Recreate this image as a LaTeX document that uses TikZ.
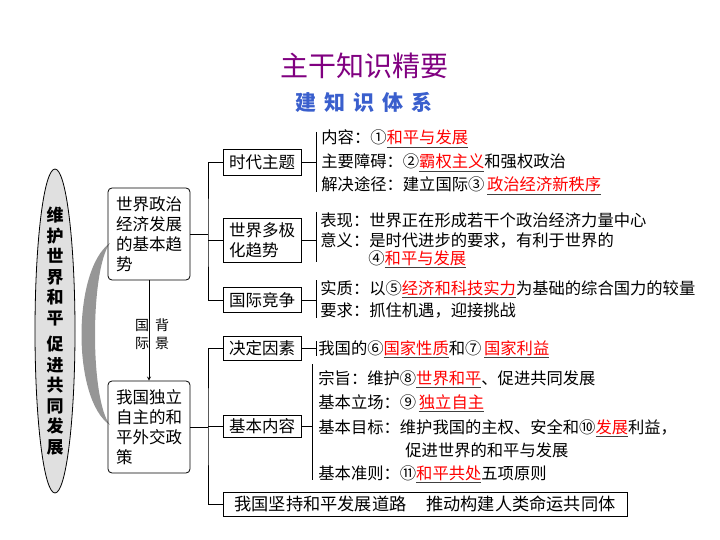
\documentclass[tikz,border=0pt]{standalone}
\usepackage{fontspec}
\setmainfont{Noto Sans CJK SC}
\usetikzlibrary{shapes.geometric}
\definecolor{titlepurple}{RGB}{128,0,128}
\definecolor{subblue}{RGB}{58,95,205}
\definecolor{moongray}{RGB}{150,150,150}
\definecolor{corefill}{RGB}{224,224,224}
\newcommand{\fsz}[2]{\fontsize{#1}{#2}\selectfont}
\newcommand{\ans}[1]{{\color{darkgray}\underline{\textcolor{red}{#1}}}}

\begin{document}
\begin{tikzpicture}[x=1pt,y=-1pt,>=stealth,line width=0.8pt,
    bigbox/.style={draw,rounded corners=4pt,minimum width=82pt,minimum height=92pt,align=left,font=\fsz{16.5}{20}},
    topicbox/.style={draw,minimum width=78pt,inner sep=1pt,align=left,font=\fsz{16.5}{20}},
    item/.style={anchor=base west,inner sep=0pt,font=\fsz{16.3}{20}}]
\useasboundingbox (0,0) rectangle (720,540);
\node[font=\fsz{28}{28},text=titlepurple] (title) at (364,66) {主干知识精要};
\node[font=\bfseries\fsz{21}{21},text=subblue] (subtitle) at (364,102) {建\hspace{8pt}知\hspace{8pt}识\hspace{8pt}体\hspace{8pt}系};

\draw[fill=corefill] (55,331) ellipse (20 and 162);
\node[font=\bfseries\fsz{17}{20.5},align=center,inner sep=0pt] (core) at (55,331) {维\\护\\世\\界\\和\\平\\[6pt]促\\进\\共\\同\\发\\展};
\fill[moongray] (110,243) .. controls (72,270) and (72,400) .. (110,425) .. controls (90,400) and (90,270) .. (110,243);

\node[bigbox] (trend) at (149,234) {世界政治\\经济发展\\的基本趋\\势};
\node[bigbox] (policy) at (149,427) {我国独立\\自主的和\\平外交政\\策};
\draw[->] (trend) -- (policy);
\node[font=\fsz{14}{18},align=center,inner sep=0pt] (intl) at (142,334) {国\\际};
\node[font=\fsz{14}{18},align=center,inner sep=0pt] (bg) at (162,334) {背\\景};

\node[topicbox,minimum height=26pt] (theme) at (262,162) {时代主题};
\node[topicbox,minimum height=44pt] (multi) at (262,240) {世界多极\\化趋势};
\node[topicbox,minimum height=25pt] (compete) at (262,300) {国际竞争};
\node[topicbox,minimum height=24pt] (factor) at (262,348) {决定因素};
\node[topicbox,minimum height=22pt] (content) at (262,426) {基本内容};
\node[draw,minimum width=404pt,minimum height=24pt,inner sep=1pt,font=\fsz{17.2}{20}] (road) at (425,504) {我国坚持和平发展道路\hspace{20pt}推动构建人类命运共同体};

\coordinate (ubar) at (208,234);
\coordinate (lbar) at (208,427);
\draw (trend) -- (ubar);
\draw (theme.west) -| (ubar) |- (compete.west);
\draw (ubar |- multi.west) -- (multi.west);
\draw (policy) -- (lbar);
\draw (factor.west) -| (lbar) |- (road.west);
\draw (lbar |- content.west) -- (content.west);

\coordinate (bar1) at (316,132);
\coordinate (bar2) at (316,212);
\coordinate (bar3) at (316,280);
\coordinate (bar4) at (316,341);
\coordinate (bar5) at (312,364);
\draw (bar1) -- (316,192);
\draw (bar2) -- (316,262);
\draw (bar3) -- (316,318);
\draw (bar4) -- (316,356);
\draw (bar5) -- (312,480);
\draw (theme) -- (theme -| bar1);
\draw (multi) -- (multi -| bar2);
\draw (compete) -- (compete -| bar3);
\draw (factor) -- (factor -| bar4);
\draw (content) -- (content -| bar5);

\node[item] (theme1) at (321,144) {内容：①\ans{和平与发展}};
\node[item] (theme2) at (321,168) {主要障碍：②\ans{霸权主义}和强权政治};
\node[item] (theme3) at (321,191) {解决途径：建立国际③\,\ans{政治经济新秩序}};
\node[item] (multi1) at (320,226) {表现：世界正在形成若干个政治经济力量中心};
\node[item] (multi2) at (320,246) {意义：是时代进步的要求，有利于世界的};
\node[item] (multi3) at (368,264) {④\ans{和平与发展}};
\node[item] (comp1) at (320,294) {实质：以⑤\ans{经济和科技实力}为基础的综合国力的较量};
\node[item] (comp2) at (320,316) {要求：抓住机遇，迎接挑战};
\node[item] (factor1) at (318,354) {我国的⑥\ans{国家性质}和⑦\,\ans{国家利益}};
\node[item] (cont1) at (318,384) {宗旨：维护⑧\ans{世界和平}、促进共同发展};
\node[item] (cont2) at (318,408) {基本立场：⑨\,\ans{独立自主}};
\node[item] (cont3) at (318,433) {基本目标：维护我国的主权、安全和⑩\ans{发展}利益，};
\node[item] (cont4) at (405,456) {促进世界的和平与发展};
\node[item] (cont5) at (318,479) {基本准则：⑪\ans{和平共处}五项原则};
\end{tikzpicture}
\end{document}
